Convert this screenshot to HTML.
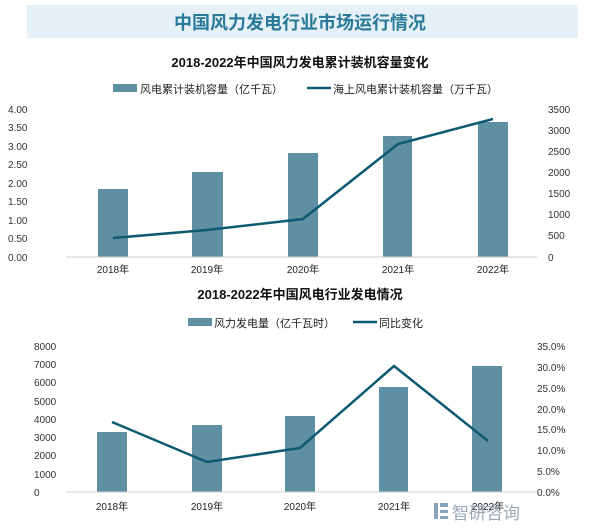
<!DOCTYPE html>
<html><head><meta charset="utf-8"><style>
body{margin:0;background:#fff;}
text{font-family:"Liberation Sans","Noto Sans CJK SC",sans-serif;}
</style></head><body>
<svg width="600" height="523" xmlns="http://www.w3.org/2000/svg">
<rect x="27" y="5" width="551" height="33" fill="#e6f0f7"/>
<text x="300" y="29" text-anchor="middle" font-size="18" font-weight="bold" fill="#2a7a9a" font-family="Noto Serif CJK SC,serif">中国风力发电行业市场运行情况</text>

<text x="300" y="67" text-anchor="middle" font-size="13" font-weight="bold" fill="#111">2018-2022年中国风力发电累计装机容量变化</text>
<rect x="113" y="84" width="24" height="8" fill="#5e8fa3"/>
<text x="140" y="93" font-size="11" fill="#222">风电累计装机容量（亿千瓦）</text>
<line x1="307" y1="88" x2="331" y2="88" stroke="#0d5a73" stroke-width="2.5"/>
<text x="333" y="93" font-size="11" fill="#222">海上风电累计装机容量（万千瓦）</text>
<g font-size="10" fill="#333">
<text x="8" y="113">4.00</text><text x="8" y="131">3.50</text><text x="8" y="150">3.00</text><text x="8" y="168">2.50</text><text x="8" y="187">2.00</text><text x="8" y="205">1.50</text><text x="8" y="224">1.00</text><text x="8" y="242">0.50</text><text x="8" y="261">0.00</text>
<text x="548" y="113">3500</text><text x="548" y="134">3000</text><text x="548" y="155">2500</text><text x="548" y="176">2000</text><text x="548" y="197">1500</text><text x="548" y="218">1000</text><text x="548" y="239">500</text><text x="548" y="261">0</text>
</g>
<g fill="#5e8fa3">
<rect x="98" y="189" width="30" height="68"/><rect x="192" y="172" width="31" height="85"/><rect x="288" y="153" width="30" height="104"/><rect x="383" y="136" width="29" height="121"/><rect x="478" y="122" width="30" height="135"/>
</g>
<line x1="66" y1="257" x2="537" y2="257" stroke="#ccc"/>
<polyline points="113,238 207,230 303,219 398,144 493,119" fill="none" stroke="#0d5a73" stroke-width="2.5"/>
<g font-size="10" fill="#222" text-anchor="middle">
<text x="113" y="273">2018年</text><text x="207" y="273">2019年</text><text x="303" y="273">2020年</text><text x="398" y="273">2021年</text><text x="493" y="273">2022年</text>
</g>

<text x="300" y="299" text-anchor="middle" font-size="13" font-weight="bold" fill="#111">2018-2022年中国风电行业发电情况</text>
<rect x="188" y="318" width="24" height="8" fill="#5e8fa3"/>
<text x="214" y="327" font-size="11" fill="#222">风力发电量（亿千瓦时）</text>
<line x1="353" y1="322" x2="377" y2="322" stroke="#0d5a73" stroke-width="2.5"/>
<text x="379" y="327" font-size="11" fill="#222">同比变化</text>
<g font-size="10" fill="#333">
<text x="34" y="350">8000</text><text x="34" y="368">7000</text><text x="34" y="386">6000</text><text x="34" y="405">5000</text><text x="34" y="423">4000</text><text x="34" y="441">3000</text><text x="34" y="459">2000</text><text x="34" y="478">1000</text><text x="34" y="496">0</text>
<text x="537" y="350">35.0%</text><text x="537" y="371">30.0%</text><text x="537" y="392">25.0%</text><text x="537" y="413">20.0%</text><text x="537" y="433">15.0%</text><text x="537" y="454">10.0%</text><text x="537" y="475">5.0%</text><text x="537" y="496">0.0%</text>
</g>
<g fill="#5e8fa3">
<rect x="97" y="432" width="30" height="60"/><rect x="192" y="425" width="30" height="67"/><rect x="285" y="416" width="30" height="76"/><rect x="379" y="387" width="29" height="105"/><rect x="472" y="366" width="30" height="126"/>
</g>
<line x1="66" y1="492" x2="537" y2="492" stroke="#ccc"/>
<polyline points="112,422 207,462 300,448 394,366 488,441" fill="none" stroke="#0d5a73" stroke-width="2.5"/>
<g font-size="10" fill="#222" text-anchor="middle">
<text x="112" y="510">2018年</text><text x="207" y="510">2019年</text><text x="300" y="510">2020年</text><text x="394" y="510">2021年</text><text x="488" y="510">2022年</text>
</g>
<g fill="#8aa3b8">
<rect x="434" y="503" width="4" height="16"/><rect x="440" y="503" width="8" height="4"/><rect x="440" y="510" width="8" height="3"/><rect x="440" y="516" width="8" height="3"/>
</g>
<text x="452" y="519" font-size="17" fill="#9aa9b8">智研咨询</text>
</svg>
</body></html>
